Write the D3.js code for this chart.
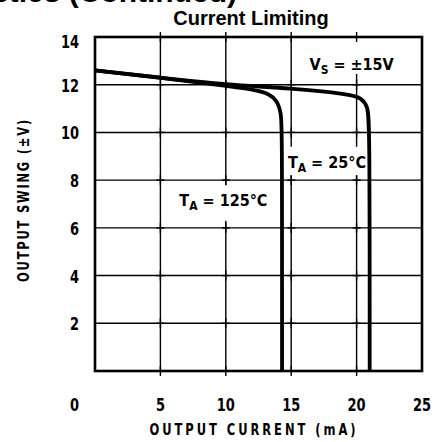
<!DOCTYPE html>
<html lang="en">
<head>
    <meta charset="UTF-8">
    <title>Current Limiting</title>
    <script src="https://cdn.jsdelivr.net/npm/d3@7"></script>
    <style>
        body { margin: 0; background: #fff; }
        svg { display: block; }
        .narrow { font-family: 'Liberation Sans Narrow', 'DejaVu Sans Condensed', sans-serif; font-weight: bold; }
    </style>
</head>
<body>
    <script>
        // data
        const xTicks = [5, 10, 15, 20, 25]
        const yTicks = [2, 4, 6, 8, 10, 12, 14]

        const current125 = [0, 5, 10, 12.3, 13.3, 13.9, 14.25, 14.3, 14.3]
        const swing125 = [12.6, 12.3, 11.95, 11.78, 11.62, 11.35, 10.8, 10.0, 0]

        const current25 = [0, 5, 10, 15, 19.5, 20.35, 20.85, 21.0, 21.0]
        const swing25 = [12.6, 12.3, 12.0, 11.85, 11.6, 11.45, 11.1, 10.4, 0]

        const width = 437
        const height = 442

        const svg = d3.select('body').append('svg')
            .attr('width', width)
            .attr('height', height)

        const xScale = d3.scaleLinear().domain([0, 25]).range([95, 422])
        const yScale = d3.scaleLinear().domain([0, 14]).range([371, 37])

        // condensed bold text, squeezed a bit along its run
        function narrow(x, y, size, anchor, sx, extra = '') {
            return svg.append('text')
                .attr('class', 'narrow')
                .attr('transform', `translate(${x}, ${y}) ${extra} scale(${sx}, 1)`)
                .attr('text-anchor', anchor)
                .attr('font-size', size)
        }

        // clipped header from the page above
        svg.append('text')
            .attr('x', 237)
            .attr('y', 2)
            .attr('text-anchor', 'end')
            .attr('font-family', 'Liberation Sans, Arial, sans-serif')
            .attr('font-weight', 'bold')
            .attr('font-size', 30)
            .text('Typical Performance Characteristics (Continued)')

        svg.append('text')
            .attr('x', 251)
            .attr('y', 25)
            .attr('text-anchor', 'middle')
            .attr('font-family', 'Liberation Sans, Arial, sans-serif')
            .attr('font-weight', 'bold')
            .attr('font-size', 20)
            .text('Current Limiting')

        const grid = svg.append('g')
            .attr('stroke', '#000')
            .attr('stroke-width', 1.4)

        grid.selectAll('line.v')
            .data(xTicks.slice(0, -1))
            .enter().append('line')
            .attr('class', 'v')
            .attr('x1', d => xScale(d)).attr('x2', d => xScale(d))
            .attr('y1', yScale(0)).attr('y2', yScale(14))

        grid.selectAll('line.h')
            .data(yTicks.slice(0, -1))
            .enter().append('line')
            .attr('class', 'h')
            .attr('x1', xScale(0)).attr('x2', xScale(25))
            .attr('y1', d => yScale(d)).attr('y2', d => yScale(d))

        // label boxes knock out the grid
        const boxes = [
            { x0: 17.0, x1: 24.6, y0: 12.45, y1: 14 },
            { x0: 14.6, x1: 20.7, y0: 8.2, y1: 9.4 },
            { x0: 6.1, x1: 13.9, y0: 6.3, y1: 7.8 }
        ]
        svg.selectAll('rect.knock')
            .data(boxes)
            .enter().append('rect')
            .attr('class', 'knock')
            .attr('x', d => xScale(d.x0))
            .attr('y', d => yScale(d.y1))
            .attr('width', d => xScale(d.x1) - xScale(d.x0))
            .attr('height', d => yScale(d.y0) - yScale(d.y1))
            .attr('fill', '#fff')

        // small crosses at every grid intersection
        const crosses = []
        xTicks.slice(0, -1).forEach(x => {
            [0, ...yTicks].forEach(y => crosses.push([x, y]))
        })
        const cross = svg.append('g').attr('stroke', '#000').attr('stroke-width', 1.4)
        crosses.forEach(([x, y]) => {
            cross.append('line')
                .attr('x1', xScale(x) - 4).attr('x2', xScale(x) + 4)
                .attr('y1', yScale(y)).attr('y2', yScale(y))
            cross.append('line')
                .attr('x1', xScale(x)).attr('x2', xScale(x))
                .attr('y1', yScale(y) - 5).attr('y2', yScale(y) + 5)
        })

        svg.append('rect')
            .attr('x', xScale(0))
            .attr('y', yScale(14))
            .attr('width', xScale(25) - xScale(0))
            .attr('height', yScale(0) - yScale(14))
            .attr('fill', 'none')
            .attr('stroke', '#000')
            .attr('stroke-width', 2.6)

        const line = d3.line()
            .x(d => xScale(d[0]))
            .y(d => yScale(d[1]))
            .curve(d3.curveBasis)

        const series = [
            d3.zip(current125, swing125),
            d3.zip(current25, swing25)
        ]
        svg.selectAll('path.curve')
            .data(series)
            .enter().append('path')
            .attr('class', 'curve')
            .attr('d', line)
            .attr('fill', 'none')
            .attr('stroke', '#000')
            .attr('stroke-width', 3.8)

        // tick labels
        yTicks.forEach(d => {
            narrow(79, d === 14 ? yScale(d) + 11 : yScale(d) + 7, 17, 'end', 0.85).text(d)
        })
        narrow(79, 411, 17, 'end', 0.85).text('0')
        xTicks.forEach(d => {
            narrow(xScale(d), 411, 17, 'middle', 0.85).text(d)
        })

        narrow(254, 435, 16, 'middle', 0.8).attr('letter-spacing', 3.7).text('OUTPUT CURRENT (mA)')
        narrow(29, 200, 16, 'middle', 0.8, 'rotate(-90)').attr('letter-spacing', 2.2).text('OUTPUT SWING (\u00b1V)')

        // annotations
        function label(x, y, main, sub, rest) {
            const t = svg.append('text')
                .attr('class', 'narrow')
                .attr('x', x)
                .attr('y', y)
                .attr('font-size', 16)
            t.append('tspan').text(main)
            t.append('tspan').attr('dy', 4).attr('font-size', 12).text(sub)
            t.append('tspan').attr('dy', -4).text(rest)
        }
        label(xScale(16.4), yScale(12.85) + 6, 'V', 'S', ' = \u00b115V')
        label(xScale(14.75), yScale(8.75) + 6, 'T', 'A', ' = 25\u00b0C')
        label(xScale(6.45), yScale(7.15) + 6, 'T', 'A', ' = 125\u00b0C')
    </script>
</body>
</html>
